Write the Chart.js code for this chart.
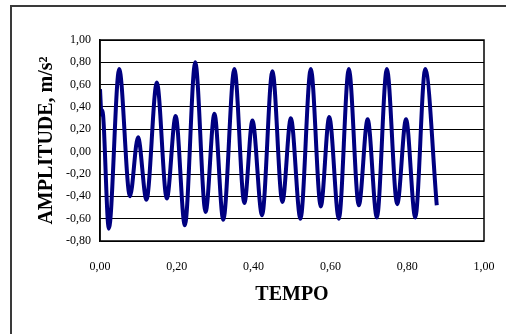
<!DOCTYPE html>
<html lang="pt">
<head>
    <meta charset="UTF-8" />
    <title>Amplitude x Tempo</title>
    <script src="https://cdn.jsdelivr.net/npm/chart.js"></script>
    <style>
        html, body { margin: 0; padding: 0; background: #fff; }
        #chartContainer {
            position: relative;
            width: 506px;
            height: 334px;
            overflow: hidden;
        }
        /* outer frame of the original sheet (only left/top edges visible) */
        #frame {
            position: absolute;
            left: 10px;
            top: 5px;
            width: 600px;
            height: 400px;
            border-left: 2px solid #3a3a3a;
            border-top: 2px solid #3a3a3a;
        }
        #myChart { position: absolute; left: 0; top: 0; }
    </style>
</head>
<body>

<div id="chartContainer">
    <div id="frame"></div>
    <canvas id="myChart" width="506" height="334"></canvas>
</div>

<script>
    // time (s) of each peak / trough
    const tempo = [
        0.000, 0.004, 0.006, 0.023, 0.050, 0.078, 0.099, 0.121, 0.148, 0.174,
        0.197, 0.221, 0.248, 0.275, 0.298, 0.321, 0.350, 0.376, 0.397, 0.422,
        0.449, 0.475, 0.497, 0.522, 0.549, 0.575, 0.597, 0.622, 0.648, 0.674,
        0.697, 0.721, 0.747, 0.774, 0.797, 0.821, 0.847, 0.877
    ];
    // amplitude (m/s2) at those times
    const amplitude = [
        0.56, 0.33, 0.37, -0.69, 0.74, -0.40, 0.13, -0.43, 0.62, -0.42,
        0.32, -0.66, 0.80, -0.54, 0.34, -0.61, 0.74, -0.46, 0.28, -0.57,
        0.72, -0.45, 0.30, -0.60, 0.74, -0.49, 0.31, -0.60, 0.74, -0.48,
        0.29, -0.59, 0.74, -0.47, 0.29, -0.59, 0.74, -0.48
    ];
    const xTicks = [0, 0.2, 0.4, 0.6, 0.8, 1.0];
    const yTicks = [-0.8, -0.6, -0.4, -0.2, 0, 0.2, 0.4, 0.6, 0.8, 1.0];

    const fmt = v => v.toFixed(2).replace('.', ',');

    // black frame around the plot area
    const plotFrame = {
        id: 'plotFrame',
        afterDraw(chart) {
            const a = chart.chartArea;
            const c = chart.ctx;
            c.save();
            c.strokeStyle = '#000';
            c.lineWidth = 1.5;
            c.strokeRect(a.left, a.top, a.right - a.left, a.bottom - a.top);
            c.restore();
        }
    };

    const points = tempo.map((t, i) => ({ x: t, y: amplitude[i] }));

    new Chart(document.getElementById('myChart').getContext('2d'), {
        type: 'line',
        data: {
            datasets: [{
                data: points,
                borderColor: '#000080',
                borderWidth: 4,
                pointRadius: 0,
                fill: false,
                cubicInterpolationMode: 'monotone'
            }]
        },
        options: {
            responsive: false,
            animation: false,
            layout: { padding: { left: 0, right: 22, top: 40, bottom: 0 } },
            plugins: {
                legend: { display: false },
                tooltip: { enabled: false }
            },
            scales: {
                x: {
                    type: 'linear',
                    min: 0,
                    max: 1,
                    afterBuildTicks: s => { s.ticks = xTicks.map(v => ({ value: v })); },
                    afterFit: s => {
                        s.height = 93;
                        s.paddingLeft = 0;
                        s.paddingRight = 0;
                    },
                    grid: { display: false, drawTicks: false },
                    border: { display: false },
                    ticks: {
                        padding: 19,
                        maxRotation: 0,
                        color: '#000',
                        font: { family: 'Liberation Serif', size: 12 },
                        callback: v => fmt(v)
                    },
                    title: {
                        display: true,
                        text: 'TEMPO',
                        color: '#000',
                        font: { family: 'Liberation Serif', size: 20, weight: 'bold' },
                        padding: { top: 0, bottom: 27 }
                    }
                },
                y: {
                    type: 'linear',
                    min: -0.8,
                    max: 1.0,
                    afterBuildTicks: s => { s.ticks = yTicks.map(v => ({ value: v })); },
                    afterFit: s => {
                        s.width = 100;
                        s.paddingTop = 0;
                        s.paddingBottom = 0;
                    },
                    grid: { color: '#000', lineWidth: 1, drawTicks: false },
                    border: { color: '#000', width: 1.5 },
                    ticks: {
                        padding: 9,
                        color: '#000',
                        font: { family: 'Liberation Serif', size: 12 },
                        callback: v => fmt(v)
                    },
                    title: {
                        display: true,
                        text: 'AMPLITUDE, m/s\u00B2',
                        color: '#000',
                        font: { family: 'Liberation Serif', size: 20, weight: 'bold' },
                        padding: { top: 35, bottom: 0 }
                    }
                }
            }
        },
        plugins: [plotFrame]
    });
</script>

</body>
</html>
